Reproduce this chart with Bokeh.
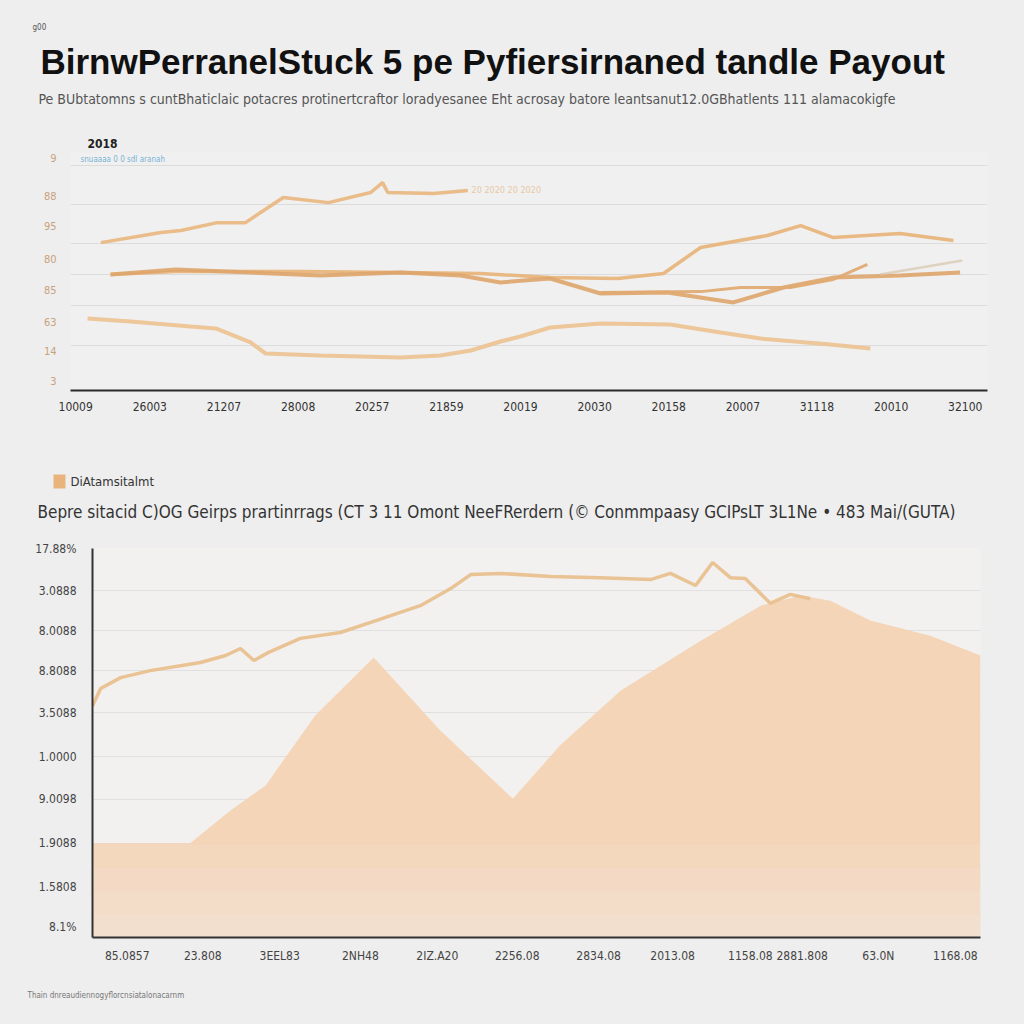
from bokeh.plotting import figure
from bokeh.layouts import column, row
from bokeh.models import Range1d, FixedTicker, Label
from bokeh.embed import file_html
from bokeh.resources import INLINE

# ---------------- data: top chart ----------------
top_x_labels = ["10009", "26003", "21207", "28008", "20257", "21859", "20019",
                "20030", "20158", "20007", "31118", "20010", "32100"]
top_y_ticks = [101.3, 84.8, 71.7, 57.4, 43.5, 29.6, 17.0, 4.3]
top_y_labels = ["9", "88", "95", "80", "85", "63", "14", "3"]
top_grid = [97.8, 80.9, 63.9, 50.4, 37.0, 19.6]

a_x = [0.34, 1.15, 1.42, 1.91, 2.29, 2.80, 3.41, 3.98, 4.14, 4.21, 4.83, 5.29]
a_y = [64.3, 68.7, 69.6, 73.0, 73.0, 83.9, 81.7, 86.1, 90.4, 86.1, 85.7, 87.0]

b_x = [0.47, 1.35, 3.03, 4.38, 5.46, 6.40, 7.31, 7.93, 8.43, 9.33, 9.78, 10.22, 11.12, 11.84]
b_y = [50.4, 51.7, 51.7, 51.3, 50.9, 49.1, 48.7, 50.9, 62.2, 67.4, 71.7, 66.5, 68.3, 65.2]

c_x = [0.47, 1.35, 2.36, 3.30, 4.38, 5.19, 5.73, 6.40, 7.08, 7.98, 8.87, 9.55, 10.22, 11.12, 11.93]
c_y = [50.4, 52.6, 51.3, 50.0, 51.3, 50.0, 47.0, 48.7, 42.2, 42.6, 38.3, 44.8, 49.1, 50.0, 51.3]

e_x = [7.08, 8.43, 8.97, 9.64, 10.22, 10.68]
e_y = [42.6, 43.0, 44.8, 44.8, 48.3, 54.8]

f_x = [10.85, 11.96]
f_y = [50.4, 56.5]

d_x = [0.16, 0.74, 1.55, 1.89, 2.36, 2.56, 3.30, 4.38, 4.92, 5.33, 5.73, 6.00,
       6.40, 7.08, 8.02, 8.70, 9.24, 10.18, 10.72]
d_y = [31.3, 30.0, 27.8, 27.0, 20.9, 16.1, 15.2, 14.3, 15.2, 17.4, 21.3, 23.5,
       27.4, 29.1, 28.7, 25.2, 22.6, 20.0, 18.3]

# ---------------- data: bottom chart ----------------
bot_x_ticks = [0.47, 1.49, 2.53, 3.62, 4.66, 5.74, 6.84, 7.84, 8.89, 9.59, 10.62, 11.66]
bot_x_labels = ["85.0857", "23.808", "3EEL83", "2NH48", "2IZ.A20", "2256.08",
                "2834.08", "2013.08", "1158.08", "2881.808", "63.0N", "1168.08"]
bot_y_ticks = [100, 89.2, 78.9, 68.6, 57.8, 46.5, 35.5, 24.2, 13.1, 2.8]
bot_y_labels = ["17.88%", "3.0888", "8.0088", "8.8088", "3.5088", "1.0000",
                "9.0098", "1.9088", "1.5808", "8.1%"]

area_x = [0.0, 1.32, 1.86, 2.34, 3.01, 3.80, 4.70, 5.68, 6.32, 7.14, 8.22, 9.03,
          9.57, 9.97, 10.51, 11.32, 12.0]
area_y = [24.2, 24.2, 32.6, 39.1, 57.1, 72.0, 53.2, 35.7, 49.4, 63.5, 76.3, 85.3,
          87.9, 86.6, 81.5, 77.6, 72.5]

line_x = [0.0, 0.11, 0.38, 0.78, 1.46, 1.80, 2.00, 2.18, 2.38, 2.81, 3.35, 3.76,
          4.43, 4.84, 5.11, 5.51, 6.19, 6.86, 7.54, 7.81, 8.15, 8.38, 8.62, 8.82,
          9.16, 9.43, 9.70]
line_y = [59.6, 64.0, 66.8, 68.6, 70.7, 72.5, 74.3, 71.2, 73.3, 76.9, 78.4, 81.0,
          85.3, 89.7, 93.3, 93.6, 92.8, 92.5, 92.0, 93.6, 90.5, 96.4, 92.5, 92.3,
          85.9, 88.2, 87.1]

PAGE_BG = "#eeeeee"
W = 1024
FONT = "Liberation Sans Narrow, DejaVu Sans Condensed, Liberation Sans, sans-serif"
BG_CSS = [":host { background-color: #eeeeee; }"]


def text_panel(height):
    """Axis-less figure used for free text; y grows downwards in pixels."""
    f = figure(width=W, height=height, output_backend="svg", toolbar_location=None,
               x_range=Range1d(0, W), y_range=Range1d(height, 0),
               x_axis_type=None, y_axis_type=None, min_border=0,
               min_border_left=0, min_border_right=0, min_border_top=0,
               min_border_bottom=0,
               background_fill_color=PAGE_BG, border_fill_color=PAGE_BG,
               outline_line_color=None)
    f.xgrid.visible = False
    f.ygrid.visible = False
    return f


def dlabel(fig, x, y, text, size, color, style="normal", font=FONT):
    fig.add_layout(Label(x=x, y=y, text=text, text_font_size=size,
                         text_color=color, text_font_style=style,
                         text_baseline="middle", text_font=font))


# ================= header =================
hdr = text_panel(152)
dlabel(hdr, 32, 27, "g00", "8px", "#555555")
dlabel(hdr, 40, 61, "BirnwPerranelStuck  5 pe Pyfiersirnaned tandle Payout",
       "35px", "#111111", "bold", "Liberation Sans, Arial, sans-serif")
dlabel(hdr, 38, 98,
       "Pe  BUbtatomns s cuntBhaticlaic potacres protinertcraftor loradyesanee  Eht acrosay batore leantsanut12.0GBhatlents 111 alamacokigfe",
       "14px", "#555555")
dlabel(hdr, 87, 143, "2018", "12px", "#222222", "bold")

# ================= top chart =================
p1 = figure(width=W, height=306, output_backend="svg", toolbar_location=None,
            x_range=Range1d(-0.07, 12.3), y_range=Range1d(0, 103.5),
            min_border_left=70, min_border_right=37, min_border_top=0,
            min_border_bottom=68, background_fill_color="#f0f0f0",
            border_fill_color=PAGE_BG, outline_line_color=None)

p1.xaxis.ticker = FixedTicker(ticks=list(range(len(top_x_labels))))
p1.xaxis.major_label_overrides = {i: s for i, s in enumerate(top_x_labels)}
p1.xaxis.axis_line_color = "#2b2b2b"
p1.xaxis.axis_line_width = 2
p1.xaxis.major_tick_line_color = None
p1.xaxis.minor_tick_line_color = None
p1.xaxis.major_tick_out = 0
p1.xaxis.major_label_text_font_size = "12px"
p1.xaxis.major_label_text_color = "#333333"
p1.xaxis.major_label_text_font = FONT
p1.xaxis.major_label_standoff = 11

p1.yaxis.ticker = FixedTicker(ticks=top_y_ticks)
p1.yaxis.major_label_overrides = {v: s for v, s in zip(top_y_ticks, top_y_labels)}
p1.yaxis.axis_line_color = None
p1.yaxis.major_tick_line_color = None
p1.yaxis.minor_tick_line_color = None
p1.yaxis.major_tick_out = 0
p1.yaxis.major_label_text_font_size = "11px"
p1.yaxis.major_label_text_color = "#c9a27c"
p1.yaxis.major_label_text_font = FONT
p1.yaxis.major_label_standoff = 14

p1.xgrid.grid_line_color = None
p1.ygrid.ticker = FixedTicker(ticks=top_grid)
p1.ygrid.grid_line_color = "#dcdcdc"

for xs, ys, col, w, al in [
    (d_x, d_y, "#ecc190", 4, 0.9),
    (a_x, a_y, "#e9b883", 3.5, 0.95),
    (b_x, b_y, "#e8b57d", 3.5, 0.95),
    (c_x, c_y, "#dea56b", 4, 0.9),
    (e_x, e_y, "#e0aa72", 3, 0.95),
    (f_x, f_y, "#d9c4ad", 2.5, 0.7),
]:
    p1.line(xs, ys, line_color=col, line_width=w, line_alpha=al)

p1.add_layout(Label(x=a_x[-1] + 0.05, y=a_y[-1], text="20 2020 20 2020",
                    text_font_size="9px", text_color="#e8c9a6",
                    text_baseline="middle", text_font=FONT))
p1.add_layout(Label(x=10, y=231, x_units="screen", y_units="screen",
                    text="snuaaaa 0 0 sdl aranah", text_font_size="8px",
                    text_color="#79b3d6", text_baseline="middle", text_font=FONT))

# ================= middle text =================
mid = text_panel(80)
mid.quad(left=[53], right=[65], top=[16], bottom=[30], fill_color="#e8b47c",
         line_color=None)
dlabel(mid, 70, 23, "DiAtamsitalmt", "13px", "#333333")
dlabel(mid, 37, 53,
       "Bepre sitacid  C)OG  Geirps prartinrrags  (CT   3 11  Omont NeeFRerdern  (© Conmmpaasy   GCIPsLT 3L1Ne   • 483  Mai/(GUTA)",
       "17px", "#333333")

# ================= bottom chart =================
p2 = figure(width=W, height=442, output_backend="svg", toolbar_location=None,
            x_range=Range1d(0, 12), y_range=Range1d(0, 100),
            min_border_left=92, min_border_right=44, min_border_top=10,
            min_border_bottom=43, background_fill_color="#f2f1ef",
            border_fill_color=PAGE_BG, outline_line_color=None)

p2.varea(x=area_x, y1=0, y2=area_y, fill_color="#f4d3b4", fill_alpha=0.95)
for lo, hi, al in [(0, 6, 0.45), (6, 12, 0.35), (12, 18, 0.25), (18, 24, 0.12)]:
    p2.varea(x=[area_x[0], area_x[-1]], y1=[lo, lo], y2=[hi, hi],
             fill_color="#f2ece6", fill_alpha=al)
p2.line(line_x, line_y, line_color="#e9c08f", line_width=3.5, line_alpha=0.95)

p2.xaxis.ticker = FixedTicker(ticks=bot_x_ticks)
p2.xaxis.major_label_overrides = {v: s for v, s in zip(bot_x_ticks, bot_x_labels)}
p2.yaxis.ticker = FixedTicker(ticks=bot_y_ticks)
p2.yaxis.major_label_overrides = {v: s for v, s in zip(bot_y_ticks, bot_y_labels)}
for ax in (p2.xaxis, p2.yaxis):
    ax.axis_line_color = "#333333"
    ax.axis_line_width = 2
    ax.major_tick_line_color = None
    ax.minor_tick_line_color = None
    ax.major_tick_out = 0
    ax.major_label_text_font_size = "12px"
    ax.major_label_text_color = "#444444"
    ax.major_label_text_font = FONT
p2.xaxis.major_label_standoff = 11
p2.yaxis.major_label_standoff = 16
p2.xgrid.grid_line_color = None
p2.ygrid.ticker = FixedTicker(ticks=bot_y_ticks)
p2.ygrid.grid_line_color = "#e0e0e0"

# ================= footer =================
ftr = text_panel(44)
dlabel(ftr, 27, 15, "Thain dnreaudiennogyflorcnsiatalonacarnm", "8px", "#777777")

# each figure wrapped in its own row so that frames are not aligned
rows = [row(f, stylesheets=BG_CSS) for f in (hdr, p1, mid, p2, ftr)]
page = column(*rows, spacing=0, stylesheets=BG_CSS)
open("out.html", "w").write(file_html(page, INLINE))
